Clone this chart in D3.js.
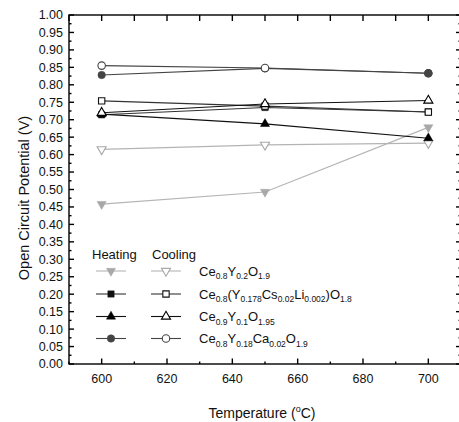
<!DOCTYPE html>
<html>
<head>
<meta charset="utf-8">
<script src="https://cdn.jsdelivr.net/npm/d3@7"></script>
<style>
  body { margin: 0; background: #fff; }
  svg { display: block; font-family: Arial, "Liberation Sans", sans-serif; }
</style>
</head>
<body>
<div id="chart"></div>
<script>
// temperatures (C)
var temps = [600, 650, 700];

// open circuit potential (V), heating and cooling runs
var y02Heat  = [0.458, 0.493, 0.678],
    y02Cool  = [0.615, 0.628, 0.633],
    csliHeat = [0.714, 0.735, 0.722],
    csliCool = [0.754, 0.739, 0.722],
    y01Heat  = [0.716, 0.688, 0.647],
    y01Cool  = [0.720, 0.745, 0.755],
    caHeat   = [0.828, 0.847, 0.833],
    caCool   = [0.855, 0.848, 0.833];

var names = [
  "Ce_{0.8}Y_{0.2}O_{1.9}",
  "Ce_{0.8}(Y_{0.178}Cs_{0.02}Li_{0.002})O_{1.8}",
  "Ce_{0.9}Y_{0.1}O_{1.95}",
  "Ce_{0.8}Y_{0.18}Ca_{0.02}O_{1.9}"
];

var xTicks = [600, 620, 640, 660, 680, 700];
var yTicks = d3.range(0, 1.0001, 0.05);

var series = [
  {name: names[0], heat: y02Heat,  cool: y02Cool,  shape: "down",   colour: "#a8a8a8", line: "#b4b4b4"},
  {name: names[1], heat: csliHeat, cool: csliCool, shape: "square", colour: "#111",    line: "#333"},
  {name: names[2], heat: y01Heat,  cool: y01Cool,  shape: "up",     colour: "#000",    line: "#111"},
  {name: names[3], heat: caHeat,   cool: caCool,   shape: "circle", colour: "#444",    line: "#444"}
];

var W = 459, H = 422,
    pLeft = 69, pTop = 15, pRight = 461, pBottom = 364;

var svg = d3.select('#chart').append('svg')
    .attr('width', W)
    .attr('height', H);

var x = d3.scaleLinear().domain([590, 710]).range([pLeft, pRight]);
var y = d3.scaleLinear().domain([0, 1]).range([pBottom, pTop]);

function symbolPath(shape) {
  if (shape == "circle") return d3.symbol(d3.symbolCircle, 44)();
  if (shape == "square") return d3.symbol(d3.symbolSquare, 40)();
  return d3.symbol(d3.symbolTriangle, 36)();
}
function symbolTransform(shape, cx, cy) {
  var t = 'translate(' + cx + ',' + cy + ')';
  if (shape == "down") t += ' rotate(180)';
  return t;
}

function drawMarker(g, s, cx, cy, open) {
  g.append('path')
    .attr('d', symbolPath(s.shape))
    .attr('transform', symbolTransform(s.shape, cx, cy))
    .attr('fill', open ? '#fff' : s.colour)
    .attr('stroke', s.colour)
    .attr('stroke-width', open ? 1.1 : 0.5);
}

// lines
var line = d3.line().x(function(d) { return x(d[0]); }).y(function(d) { return y(d[1]); });
var plot = svg.append('g');

series.forEach(function(s) {
  ['cool', 'heat'].forEach(function(run) {
    plot.append('path')
      .datum(temps.map(function(t, i) { return [t, s[run][i]]; }))
      .attr('d', line)
      .attr('fill', 'none')
      .attr('stroke', s.line)
      .attr('stroke-width', 1.1);
  });
});

series.forEach(function(s) {
  temps.forEach(function(t, i) { drawMarker(plot, s, x(t), y(s.heat[i]), false); });
  temps.forEach(function(t, i) { drawMarker(plot, s, x(t), y(s.cool[i]), true); });
});
// in the original the filled circle sits on top at 700
drawMarker(plot, series[3], x(temps[2]), y(caHeat[2]), false);

// axes frame and ticks
var axes = svg.append('g').attr('stroke', '#000').attr('stroke-width', 1.4);
axes.append('rect')
  .attr('x', pLeft).attr('y', pTop)
  .attr('width', pRight - pLeft).attr('height', pBottom - pTop)
  .attr('fill', 'none');

var xMinor = d3.range(590, 711, 10);
xMinor.forEach(function(v) {
  var major = (v % 20 == 0);
  axes.append('line').attr('x1', x(v)).attr('x2', x(v))
    .attr('y1', pBottom).attr('y2', pBottom - (major ? 5.5 : 2.5));
  axes.append('line').attr('x1', x(v)).attr('x2', x(v))
    .attr('y1', pTop).attr('y2', pTop + 6);
});

var yMinor = d3.range(0, 1.0001, 0.025);
yMinor.forEach(function(v, i) {
  var major = (i % 2 == 0);
  var len = major ? 5 : 2.5;
  axes.append('line').attr('x1', pLeft).attr('x2', pLeft + len)
    .attr('y1', y(v)).attr('y2', y(v));
  axes.append('line').attr('x1', pRight).attr('x2', pRight - len)
    .attr('y1', y(v)).attr('y2', y(v));
});

// tick labels
svg.append('g').selectAll('text')
  .data(xTicks)
  .join('text')
  .attr('x', function(d) { return x(d); })
  .attr('y', 383)
  .attr('text-anchor', 'middle')
  .attr('font-size', 12.5)
  .attr('fill', '#111')
  .text(function(d) { return d; });

svg.append('g').selectAll('text')
  .data(yTicks)
  .join('text')
  .attr('x', 63)
  .attr('y', function(d) { return y(d) + 4.4; })
  .attr('text-anchor', 'end')
  .attr('font-size', 12.5)
  .attr('fill', '#111')
  .text(function(d) { return d3.format('.2f')(d); });

// axis titles
var xt = svg.append('text')
  .attr('x', 262).attr('y', 418)
  .attr('text-anchor', 'middle')
  .attr('font-size', 14)
  .attr('fill', '#111');
xt.append('tspan').text('Temperature (');
xt.append('tspan').attr('font-size', 9).attr('dy', -6).text('o');
xt.append('tspan').attr('dy', 6).text('C)');

svg.append('text')
  .attr('transform', 'translate(29,198) rotate(-90)')
  .attr('text-anchor', 'middle')
  .attr('font-size', 14.5)
  .attr('fill', '#111')
  .text('Open Circuit Potential (V)');

// legend
function formula(textSel, str) {
  var parts = str.split(/(_\{[^}]*\})/);
  var sub = false;
  parts.forEach(function(p) {
    if (!p) return;
    if (p[0] == '_') {
      textSel.append('tspan').attr('font-size', 8.5).attr('dy', sub ? 0 : 3.5)
        .text(p.slice(2, -1));
      sub = true;
    } else {
      textSel.append('tspan').attr('font-size', 13).attr('dy', sub ? -3.5 : 0).text(p);
      sub = false;
    }
  });
}

var legend = svg.append('g');
legend.append('text').attr('x', 92).attr('y', 259).attr('font-size', 13).attr('fill', '#111').text('Heating');
legend.append('text').attr('x', 152).attr('y', 259).attr('font-size', 13).attr('fill', '#111').text('Cooling');

var rowY = [271, 294, 316.5, 338.5];
series.forEach(function(s, i) {
  var ry = rowY[i];
  [[96, 126, 111, false], [151, 181, 166, true]].forEach(function(c) {
    legend.append('line')
      .attr('x1', c[0]).attr('x2', c[1])
      .attr('y1', ry).attr('y2', ry)
      .attr('stroke', s.line).attr('stroke-width', 1.1);
    drawMarker(legend, s, c[2], ry, c[3]);
  });
  var t = legend.append('text')
    .attr('x', 199).attr('y', ry + 4.5)
    .attr('fill', '#111');
  formula(t, s.name);
});
</script>
</body>
</html>
